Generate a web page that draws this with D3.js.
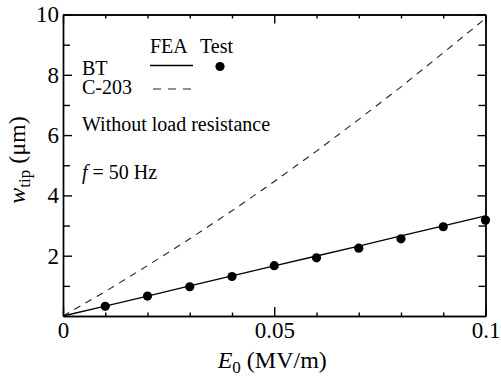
<!DOCTYPE html>
<html>
<head>
<meta charset="utf-8">
<script src="https://cdn.jsdelivr.net/npm/d3@7/dist/d3.min.js"></script>
<style>
	body { margin: 0; background: #fff; }
	.axis path, .axis line { stroke: #000; stroke-width: 1.4; }
</style>
</head>
<body>
<div id="chart"></div>
<script>
// electric field E0 (MV/m)
var fieldE = [0, 0.01, 0.02, 0.03, 0.04, 0.05, 0.06, 0.07, 0.08, 0.09, 0.1];
// FEA tip displacement (um)
var feaBT = [0, 0.33, 0.66, 1.0, 1.33, 1.66, 1.99, 2.32, 2.66, 2.99, 3.32];
var feaC203 = [0, 0.81, 1.67, 2.56, 3.49, 4.46, 5.47, 6.52, 7.60, 8.73, 9.87];
// test measurements, BT
var testE = [0.01, 0.02, 0.03, 0.04, 0.05, 0.06, 0.07, 0.08, 0.09, 0.1];
var testBT = [0.32, 0.66, 0.97, 1.31, 1.67, 1.93, 2.25, 2.56, 2.96, 3.18];
// ticks
var xMajor = [0, 0.05, 0.1];
var xMinor = [0.01, 0.02, 0.03, 0.04, 0.06, 0.07, 0.08, 0.09];
var xLabels = ["0", "0.05", "0.1"];
var yMajor = [2, 4, 6, 8, 10];
var yMinor = [1, 3, 5, 7, 9];

var serif = "'Liberation Serif', 'DejaVu Serif', serif";

var W = 501, H = 376;
var margin = {top: 14.5, right: 15.5, bottom: 60, left: 63};
var width = W - margin.left - margin.right;
var height = H - margin.top - margin.bottom;

var svg = d3.select("#chart").append("svg")
	.attr("width", W)
	.attr("height", H)
	.attr("font-family", serif);

var g = svg.append("g")
	.attr("transform", "translate(" + margin.left + "," + margin.top + ")");

var x = d3.scaleLinear().domain([0, 0.1]).range([0, width]);
var y = d3.scaleLinear().domain([0, 10]).range([height, 0]);

// minor ticks first, then major axes with labels
g.append("g").attr("class", "axis")
	.attr("transform", "translate(0," + height + ")")
	.call(d3.axisBottom(x).tickValues(xMinor).tickSize(-3.5).tickSizeOuter(0).tickFormat(""));
g.append("g").attr("class", "axis")
	.call(d3.axisTop(x).tickValues(xMinor).tickSize(-4).tickSizeOuter(0).tickFormat(""));
g.append("g").attr("class", "axis")
	.call(d3.axisLeft(y).tickValues(yMinor).tickSize(-7).tickSizeOuter(0).tickFormat(""));
g.append("g").attr("class", "axis")
	.attr("transform", "translate(" + width + ",0)")
	.call(d3.axisRight(y).tickValues(yMinor).tickSize(-7).tickSizeOuter(0).tickFormat(""));

var xAxis = g.append("g").attr("class", "axis")
	.attr("transform", "translate(0," + height + ")")
	.call(d3.axisBottom(x).tickValues(xMajor).tickSize(-9).tickSizeOuter(0).tickPadding(6)
		.tickFormat(function (d, i) { return xLabels[i]; }));
xAxis.selectAll("text")
	.attr("font-size", "23px")
	.attr("dy", "0.71em");

g.append("g").attr("class", "axis")
	.call(d3.axisTop(x).tickValues(xMajor).tickSize(-9).tickSizeOuter(0).tickFormat(""));

var yAxis = g.append("g").attr("class", "axis")
	.call(d3.axisLeft(y).tickValues(yMajor).tickSize(-9).tickSizeOuter(0).tickPadding(4));
yAxis.selectAll("text")
	.attr("font-size", "23px");

g.append("g").attr("class", "axis")
	.attr("transform", "translate(" + width + ",0)")
	.call(d3.axisRight(y).tickValues(yMajor).tickSize(-8).tickSizeOuter(0).tickFormat(""));

// curves
var line = d3.line()
	.x(function (d) { return x(d[0]); })
	.y(function (d) { return y(d[1]); });

g.append("path")
	.datum(d3.zip(fieldE, feaC203))
	.attr("fill", "none")
	.attr("stroke", "#222")
	.attr("stroke-width", 1.1)
	.attr("stroke-dasharray", "7,6")
	.attr("d", line);

g.append("path")
	.datum(d3.zip(fieldE, feaBT))
	.attr("fill", "none")
	.attr("stroke", "#000")
	.attr("stroke-width", 1.3)
	.attr("d", line);

g.selectAll("circle.test")
	.data(d3.zip(testE, testBT))
	.enter().append("circle")
	.attr("class", "test")
	.attr("cx", function (d) { return x(d[0]); })
	.attr("cy", function (d) { return y(d[1]); })
	.attr("r", 4.6)
	.attr("fill", "#000");

// legend
var leg = svg.append("g").attr("font-size", "20px");
leg.append("text").attr("x", 150).attr("y", 53).text("FEA");
leg.append("text").attr("x", 200).attr("y", 53).text("Test");
leg.append("text").attr("x", 82).attr("y", 75).text("BT");
leg.append("text").attr("x", 82).attr("y", 93.5).text("C-203");
leg.append("line")
	.attr("x1", 150).attr("x2", 193).attr("y1", 65.5).attr("y2", 65.5)
	.attr("stroke", "#000").attr("stroke-width", 1.3);
leg.append("circle").attr("cx", 220).attr("cy", 66.5).attr("r", 4.6).attr("fill", "#000");
leg.append("line")
	.attr("x1", 153).attr("x2", 193).attr("y1", 89).attr("y2", 89)
	.attr("stroke", "#222").attr("stroke-width", 1.1)
	.attr("stroke-dasharray", "8,7");
leg.append("text").attr("x", 82).attr("y", 131).text("Without load resistance");
var ft = leg.append("text").attr("x", 82).attr("y", 179);
ft.append("tspan").attr("font-style", "italic").text("f");
ft.append("tspan").text(" = 50 Hz");

// axis titles
var xt = svg.append("text")
	.attr("x", margin.left + width / 2 - 2)
	.attr("y", 368)
	.attr("text-anchor", "middle")
	.attr("font-size", "24px");
xt.append("tspan").attr("font-style", "italic").text("E");
xt.append("tspan").attr("font-size", "17px").attr("dy", 5).text("0");
xt.append("tspan").attr("dy", -5).text(" (MV/m)");

var yt = svg.append("text")
	.attr("transform", "translate(25,160) rotate(-90)")
	.attr("text-anchor", "middle")
	.attr("font-size", "24px");
yt.append("tspan").attr("font-style", "italic").text("w");
yt.append("tspan").attr("font-size", "17px").attr("dy", 5).text("tip");
yt.append("tspan").attr("dy", -5).text(" (\u03bcm)");

// serif everywhere (axis groups set their own font)
svg.selectAll("text").style("font-family", serif).style("fill", "#000");
</script>
</body>
</html>
